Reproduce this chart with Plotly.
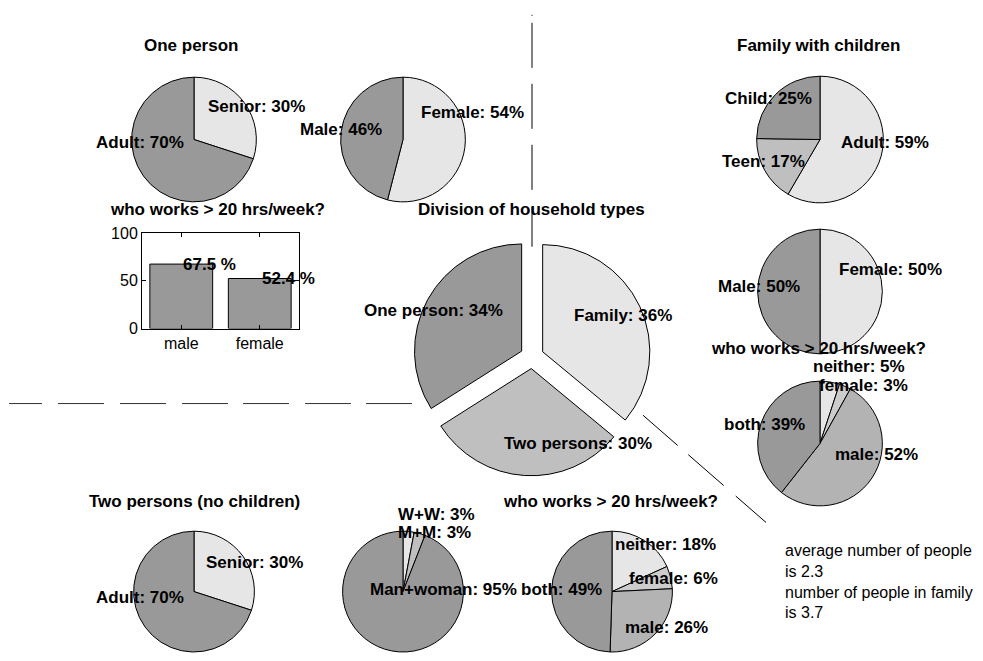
import plotly.graph_objects as go

W, H = 983, 661

# ---------------- data ----------------
one_age_labels = ["Senior", "Adult"]
one_age_values = [30, 70]
one_gender_labels = ["Female", "Male"]
one_gender_values = [54, 46]

fam_age_labels = ["Adult", "Teen", "Child"]
fam_age_values = [59, 17, 25]
fam_gender_labels = ["Female", "Male"]
fam_gender_values = [50, 50]
fam_work_labels = ["neither", "female", "male", "both"]
fam_work_values = [5, 3, 52, 39]

house_labels = ["Family", "Two persons", "One person"]
house_values = [36, 30, 34]

two_age_labels = ["Senior", "Adult"]
two_age_values = [30, 70]
two_couple_labels = ["W+W", "M+M", "Man+woman"]
two_couple_values = [3, 3, 95]
two_work_labels = ["neither", "female", "male", "both"]
two_work_values = [18, 6, 26, 49]

work_cats = ["male", "female"]
work_pct = [67.5, 52.4]

note_lines = ["average number of people", "is 2.3",
              "number of people in family", "is 3.7"]

# ---------------- styles ----------------
LIGHT, MID3, DARK = "#e6e6e6", "#bfbfbf", "#999999"
C2 = [LIGHT, DARK]
C3 = [LIGHT, MID3, DARK]
C4 = ["#e6e6e6", "#cccccc", "#b3b3b3", "#999999"]
FONT = "Liberation Sans, Arial, Helvetica, sans-serif"
BOLD = dict(family=FONT, size=17, color="black", weight="bold")
NORM = dict(family=FONT, size=16, color="black")
LABEL_DY = -5   # visual centring correction for bold labels (px)


def px(x):
    return min(max(x / W, 0.0), 1.0)


def py(y):
    return min(max(1 - y / H, 0.0), 1.0)


fig = go.Figure()


def add_pie(labels, values, colors, cx, cy, r, pull=0.0):
    half = r * (1 + pull)
    fig.add_trace(go.Pie(
        labels=labels, values=values, sort=False, direction="clockwise",
        rotation=0, textinfo="none", hoverinfo="skip", showlegend=False,
        pull=[pull] * len(values),
        marker=dict(colors=colors, line=dict(color="black", width=1)),
        domain=dict(x=[px(cx - half), px(cx + half)],
                    y=[py(cy + half), py(cy - half)]),
    ))


# pies: (labels, values, colors, centre x, centre y, radius, pull)
add_pie(one_age_labels, one_age_values, C2, 194, 135, 64)
add_pie(one_gender_labels, one_gender_values, C2, 403, 135, 64)
add_pie(fam_age_labels, fam_age_values, C3, 820, 135, 65)
add_pie(fam_gender_labels, fam_gender_values, C2, 820, 291, 64)
add_pie(fam_work_labels, fam_work_values, C4, 820, 447, 64)
add_pie(house_labels, house_values, C3, 532, 358, 110, pull=0.11)
add_pie(two_age_labels, two_age_values, C2, 194, 599, 62)
add_pie(two_couple_labels, two_couple_values, C3, 403, 599, 62)
add_pie(two_work_labels, two_work_values, C4, 612, 599, 62)

# bar chart
fig.add_trace(go.Bar(
    x=work_cats, y=work_pct, marker=dict(color=DARK, line=dict(color="black", width=1)),
    width=0.8, hoverinfo="skip", showlegend=False,
))

annotations = []


def label(text, x, y, anchor="left", font=BOLD):
    annotations.append(dict(text=text, x=px(x), y=py(y + LABEL_DY), xref="paper", yref="paper",
                            xanchor=anchor, yanchor="middle", showarrow=False, font=font))


def pie_labels(labels, values, spots):
    for (name, val), (x, y, a) in zip(zip(labels, values), spots):
        label(f"{name}: {val}%", x, y, a)


pie_labels(one_age_labels, one_age_values, [(206, 106, "left"), (94, 143, "left")])
pie_labels(one_gender_labels, one_gender_values, [(419, 112, "left"), (298, 130, "left")])
pie_labels(fam_age_labels, fam_age_values,
           [(839, 143, "left"), (720, 163, "left"), (723, 98, "left")])
pie_labels(fam_gender_labels, fam_gender_values, [(837, 273, "left"), (716, 291, "left")])
pie_labels(fam_work_labels, fam_work_values,
           [(811, 373, "left"), (910, 392, "right"), (833, 463, "left"), (722, 433, "left")])
pie_labels(house_labels, house_values,
           [(572, 321, "left"), (502, 452, "left"), (362, 315, "left")])
pie_labels(two_age_labels, two_age_values, [(204, 574, "left"), (94, 610, "left")])
pie_labels(two_couple_labels, two_couple_values,
           [(396, 525, "left"), (473, 543, "right"), (368, 602, "left")])
pie_labels(two_work_labels, two_work_values,
           [(613, 556, "left"), (720, 591, "right"), (623, 641, "left"), (519, 602, "left")])

# titles
for t, x, y in [("One person", 191, 43), ("Family with children", 818, 43),
                ("who works > 20 hrs/week?", 217, 212), ("Division of household types", 531, 212),
                ("who works > 20 hrs/week?", 818, 355), ("Two persons (no children)", 194, 512),
                ("who works > 20 hrs/week?", 610, 512)]:
    label(t, x, y, "center")

# bar value labels
for c, v in zip(work_cats, work_pct):
    annotations.append(dict(text=f"{v} %", x=c, y=v, xref="x", yref="y", xanchor="left",
                            yanchor="middle", showarrow=False, font=BOLD))

# note
annotations.append(dict(text="<br>".join(note_lines), x=px(783), y=py(546), xref="paper",
                        yref="paper", xanchor="left", yanchor="top", align="left",
                        showarrow=False, font=NORM))

shapes = [
    dict(type="line", xref="paper", yref="paper", x0=px(532), x1=px(532), y0=py(7), y1=py(245),
         line=dict(color="black", width=1, dash="1px,7px,45px,16px,45px,16px,45px,17px,46px")),
    dict(type="line", xref="paper", yref="paper", x0=px(9), x1=px(412), y0=py(406), y1=py(406),
         line=dict(color="#333333", width=1,
                   dash="33px,16px,46px,16px,46px,16px,46px,15px,46px,16px,46px,15px,47px")),
    dict(type="line", xref="paper", yref="paper", x0=px(643), x1=px(766), y0=py(418), y1=py(528),
         line=dict(color="black", width=1, dash="46px,14px,47px,16px,41px")),
]

fig.update_layout(
    width=W, height=H, margin=dict(l=0, r=0, t=0, b=0),
    paper_bgcolor="white", plot_bgcolor="white",
    annotations=annotations, shapes=shapes, showlegend=False,
    font=dict(family=FONT, color="black"),
    xaxis=dict(domain=[px(142), px(299)], type="category", range=[-0.5, 1.5],
               showline=True, linecolor="black", linewidth=1, mirror="ticks",
               ticks="inside", ticklen=4, tickcolor="black", showgrid=False, zeroline=False,
               tickfont=NORM, fixedrange=True),
    yaxis=dict(domain=[py(329), py(231)], range=[0, 100], tickvals=[0, 50, 100],
               showline=True, linecolor="black", linewidth=1, mirror="ticks",
               ticks="inside", ticklen=4, tickcolor="black", showgrid=False, zeroline=False,
               tickfont=NORM, fixedrange=True),
)

fig.write_html("out.html", config={"displayModeBar": False},
               post_script="document.body.style.margin='0';document.body.style.padding='0';"
                           "document.body.style.overflow='hidden';")
